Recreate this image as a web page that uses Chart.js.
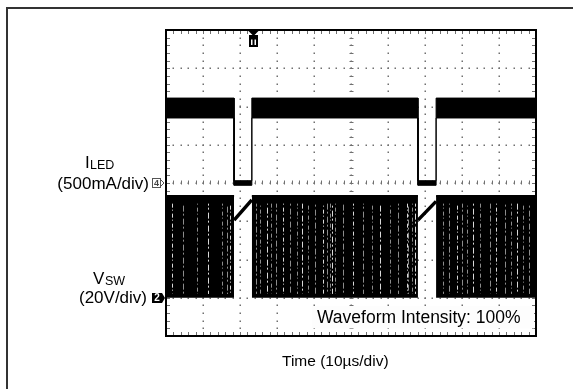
<!DOCTYPE html>
<html>
<head>
<meta charset="utf-8">
<script src="https://cdn.jsdelivr.net/npm/chart.js@4.4.1/dist/chart.umd.min.js"></script>
<style>
  html, body { margin: 0; padding: 0; background: #fff; }
  #wrap { position: relative; width: 573px; height: 389px; }
</style>
</head>
<body>
<div id="wrap"><canvas id="scope" width="573" height="389"></canvas></div>
<script>
// time axis: 10 divisions of 10us, vertical: 8 divisions
const timeMax = 100;
const divMax = 8;

// I_LED trace (in divisions), band top / bottom edges
const ledTime   = [0, 18.4, 18.4, 23.2, 23.2, 68.1, 68.1, 73.0, 73.0, 100];
const ledTop    = [6.22, 6.22, 4.06, 4.06, 6.22, 6.22, 4.06, 4.06, 6.22, 6.22];
const ledBottom = [5.70, 5.70, 3.94, 3.94, 5.70, 5.70, 3.94, 3.94, 5.70, 5.70];

// V_SW switching bursts
const swStart = [0, 23.2, 73.0];
const swEnd   = [18.4, 68.1, 100];
const swHigh  = 3.66;
const swGround = 1.0;
// ramps while switching is off
const rampStart = [18.4, 68.1];
const rampEnd   = [23.2, 73.0];
const rampFrom  = [3.03, 3.03];
const rampTo    = [3.56, 3.52];

// light streaks seen inside the V_SW burst (us)
const swStreaks = [1.5, 4.6, 8.4, 11.4, 15.1, 16.5, 17.3,
  24.3, 25.4, 27.3, 28.4, 29.7, 31.6, 33.5, 35.4, 36.8, 38.4, 40.3, 42.4, 43.5, 44.3, 44.9, 45.7,
  47.8, 50.5, 53.2, 55.7, 57.8, 60.5, 62.7, 65.1, 65.3, 66.5, 67.3,
  74.9, 76.5, 78.6, 80.0, 81.4, 83.0, 84.9, 87.6, 89.2, 91.6, 93.2, 94.9, 96.5, 98.1];

const triggerAt = 23.4;
const ch4Level = 4.0;
const ch2Level = swGround;

// build the line data
const ledTopPts = ledTime.map((t, i) => ({ x: t, y: ledTop[i] }));
const ledBotPts = ledTime.map((t, i) => ({ x: t, y: ledBottom[i] }));
const swPts = [];
swStart.forEach((s, i) => {
    swPts.push({ x: s, y: swHigh });
    swPts.push({ x: swEnd[i], y: swHigh });
    swPts.push({ x: swEnd[i], y: null });
});
const rampPts = [];
rampStart.forEach((s, i) => {
    rampPts.push({ x: s, y: rampFrom[i] });
    rampPts.push({ x: rampEnd[i], y: rampTo[i] });
    rampPts.push({ x: rampEnd[i], y: null });
});

const FONT = '"Liberation Sans", Arial, sans-serif';

const scopePlugin = {
    id: 'scopePlugin',
    beforeDraw(chart) {
        const ctx = chart.ctx;
        ctx.save();
        ctx.fillStyle = '#fff';
        ctx.fillRect(0, 0, chart.width, chart.height);
        // outer frame (cut off on right / bottom)
        ctx.strokeStyle = '#333';
        ctx.lineWidth = 2;
        ctx.beginPath();
        ctx.moveTo(7, chart.height);
        ctx.lineTo(7, 8);
        ctx.lineTo(chart.width, 8);
        ctx.stroke();
        ctx.restore();
    },
    beforeDatasetsDraw(chart) {
        const { ctx, chartArea: a, scales: { x, y } } = chart;
        ctx.save();
        ctx.fillStyle = '#707070';
        // dotted graticule
        for (let t = 10; t < timeMax; t += 10) {
            const px = Math.round(x.getPixelForValue(t));
            for (let d = 0.2; d < divMax; d += 0.2) {
                ctx.fillRect(px - 0.5, Math.round(y.getPixelForValue(d)) - 0.5, 1.5, 1.5);
            }
        }
        for (let d = 1; d < divMax; d++) {
            const py = Math.round(y.getPixelForValue(d));
            for (let t = 2; t < timeMax; t += 2) {
                ctx.fillRect(Math.round(x.getPixelForValue(t)) - 0.5, py - 0.5, 1.5, 1.5);
            }
        }
        // center cross ticks + edge ticks
        ctx.strokeStyle = '#707070';
        ctx.lineWidth = 1;
        ctx.beginPath();
        const cx = Math.round(x.getPixelForValue(50)) + 0.5;
        const cy = Math.round(y.getPixelForValue(4)) + 0.5;
        for (let d = 0.2; d < divMax; d += 0.2) {
            const py = Math.round(y.getPixelForValue(d)) + 0.5;
            ctx.moveTo(cx - 2, py); ctx.lineTo(cx + 2, py);
            ctx.moveTo(a.left, py); ctx.lineTo(a.left + 4, py);
            ctx.moveTo(a.right - 4, py); ctx.lineTo(a.right, py);
        }
        for (let t = 2; t < timeMax; t += 2) {
            const px = Math.round(x.getPixelForValue(t)) + 0.5;
            ctx.moveTo(px, cy - 3); ctx.lineTo(px, cy + 1);
            ctx.moveTo(px, a.top); ctx.lineTo(px, a.top + 4);
            ctx.moveTo(px, a.bottom - 4); ctx.lineTo(px, a.bottom);
        }
        ctx.stroke();
        ctx.restore();
    },
    afterDatasetsDraw(chart) {
        const { ctx, chartArea: a, scales: { x, y } } = chart;
        ctx.save();
        // light streaks through the switching bursts
        ctx.lineWidth = 1;
        swStreaks.forEach((t, i) => {
            const px = Math.round(x.getPixelForValue(t)) + 0.5;
            ctx.strokeStyle = i % 3 == 0 ? 'rgba(255,255,255,0.85)' : 'rgba(255,255,255,0.55)';
            ctx.setLineDash(i % 2 == 0 ? [4, 2, 1, 3] : [2, 3, 6, 2]);
            ctx.lineDashOffset = i * 3;
            ctx.beginPath();
            ctx.moveTo(px, y.getPixelForValue(swHigh - 0.2));
            ctx.lineTo(px, y.getPixelForValue(swGround + 0.1));
            ctx.stroke();
        });
        ctx.setLineDash([]);

        // plot border
        ctx.strokeStyle = '#000';
        ctx.lineWidth = 2;
        ctx.strokeRect(a.left, a.top, a.right - a.left, a.bottom - a.top);
        ctx.fillStyle = '#000';
        ctx.fillRect(a.left, a.top - 1, a.right - a.left, 2);

        // waveform intensity box
        ctx.fillStyle = '#fdfdfd';
        ctx.fillRect(x.getPixelForValue(39.5), y.getPixelForValue(0.78), a.right - 2 - x.getPixelForValue(39.5), y.getPixelForValue(0.2) - y.getPixelForValue(0.78));
        ctx.fillStyle = '#000';
        ctx.font = '17.5px ' + FONT;
        ctx.textBaseline = 'alphabetic';
        ctx.textAlign = 'left';
        ctx.fillText('Waveform Intensity: 100%', 317, 323);

        // trigger marker
        const tx = Math.round(x.getPixelForValue(triggerAt));
        ctx.beginPath();
        ctx.moveTo(tx - 4.5, a.top + 1);
        ctx.lineTo(tx + 5.5, a.top + 1);
        ctx.lineTo(tx + 0.5, a.top + 6);
        ctx.closePath();
        ctx.fill();
        ctx.fillRect(tx - 4, a.top + 5, 9, 12);
        ctx.fillStyle = '#fff';
        ctx.fillRect(tx - 2, a.top + 8, 5, 7);
        ctx.fillStyle = '#000';
        ctx.fillRect(tx - 0.5, a.top + 9, 2, 6);
        ctx.fillRect(tx - 2, a.top + 8, 5, 1.5);

        // channel markers
        const y4 = Math.round(y.getPixelForValue(ch4Level));
        ctx.strokeStyle = '#555';
        ctx.lineWidth = 1;
        ctx.strokeRect(152.5, y4 - 4.5, 8, 9);
        ctx.font = 'bold 9px ' + FONT;
        ctx.textAlign = 'center';
        ctx.textBaseline = 'middle';
        ctx.fillStyle = '#444';
        ctx.fillText('4', 156.5, y4 + 0.5);
        ctx.beginPath();
        ctx.moveTo(161, y4 - 3); ctx.lineTo(164, y4); ctx.lineTo(161, y4 + 3);
        ctx.stroke();

        const y2 = Math.round(y.getPixelForValue(ch2Level));
        ctx.fillStyle = '#000';
        ctx.fillRect(152, y2 - 5, 10, 10);
        ctx.beginPath();
        ctx.moveTo(162, y2 - 5); ctx.lineTo(165, y2); ctx.lineTo(162, y2 + 5);
        ctx.fill();
        ctx.fillStyle = '#fff';
        ctx.font = 'bold 10px ' + FONT;
        ctx.fillText('2', 157, y2 + 0.5);

        // channel labels
        ctx.fillStyle = '#000';
        ctx.textBaseline = 'alphabetic';
        ctx.textAlign = 'left';
        ctx.font = '17px ' + FONT;
        ctx.fillText('I', 85, 168);
        ctx.font = '12.5px ' + FONT;
        ctx.fillText('LED', 90, 169);
        ctx.textAlign = 'right';
        ctx.font = '17px ' + FONT;
        ctx.fillText('(500mA/div)', 149, 189);
        ctx.textAlign = 'left';
        ctx.fillText('V', 93, 284);
        ctx.font = '12.5px ' + FONT;
        ctx.fillText('SW', 105, 285);
        ctx.textAlign = 'right';
        ctx.font = '17px ' + FONT;
        ctx.fillText('(20V/div)', 147, 303);

        // time base
        ctx.textAlign = 'left';
        ctx.font = '15.5px ' + FONT;
        ctx.fillText('Time (10\u00b5s/div)', 282, 366);
        ctx.restore();
    }
};

const chart = new Chart(document.getElementById('scope'), {
    type: 'line',
    data: {
        datasets: [
            {
                label: 'ILED top',
                data: ledTopPts,
                borderColor: '#000',
                backgroundColor: '#000',
                borderWidth: 1,
                fill: '+1'
            },
            {
                label: 'ILED bottom',
                data: ledBotPts,
                borderColor: '#000',
                borderWidth: 1,
                fill: false
            },
            {
                label: 'VSW',
                data: swPts,
                borderColor: '#000',
                backgroundColor: '#000',
                borderWidth: 2,
                spanGaps: false,
                fill: { value: swGround }
            },
            {
                label: 'VSW off',
                data: rampPts,
                borderColor: '#000',
                borderWidth: 3.5,
                spanGaps: false,
                fill: false
            }
        ]
    },
    options: {
        responsive: false,
        animation: false,
        devicePixelRatio: 1,
        layout: { padding: { left: 166, top: 30, right: 37, bottom: 53 } },
        elements: { point: { radius: 0 }, line: { tension: 0 } },
        plugins: { legend: { display: false }, tooltip: { enabled: false } },
        scales: {
            x: { type: 'linear', min: 0, max: timeMax, display: false },
            y: { type: 'linear', min: 0, max: divMax, display: false }
        }
    },
    plugins: [scopePlugin]
});
</script>
</body>
</html>
